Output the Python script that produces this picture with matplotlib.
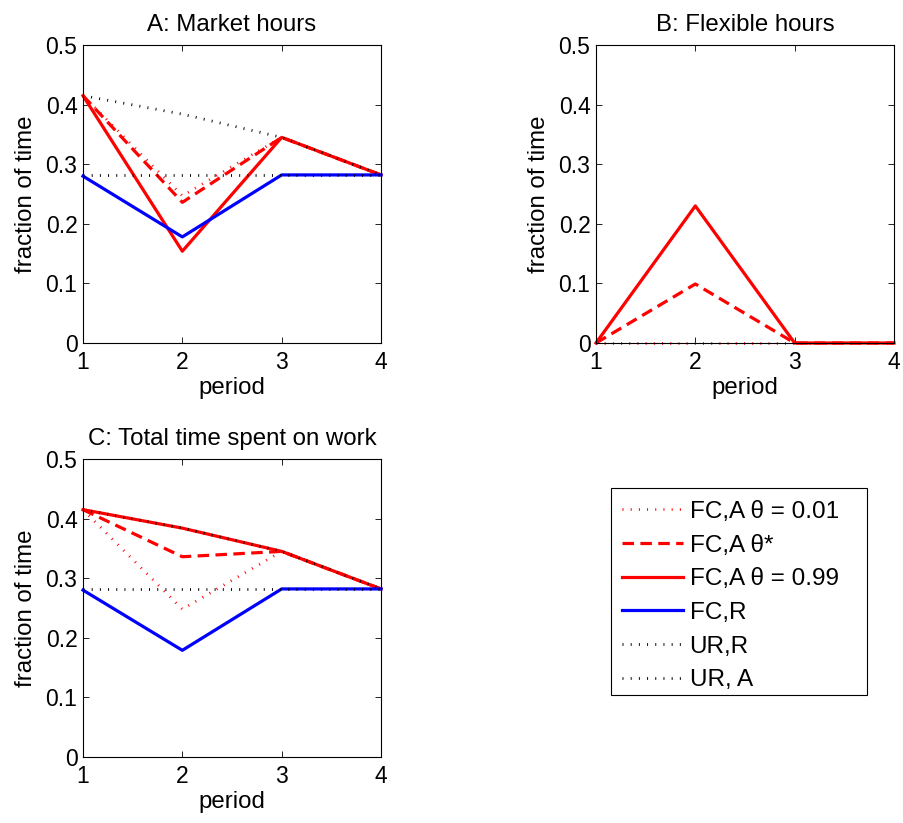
import matplotlib
matplotlib.use('Agg')
import matplotlib.pyplot as plt
from matplotlib.patches import Rectangle

plt.rcParams['font.family'] = ['Liberation Sans', 'DejaVu Sans']

periods = [1, 2, 3, 4]

# A: market hours
mkt_fca_low = [0.415, 0.247, 0.345, 0.282]
mkt_fca_star = [0.415, 0.236, 0.345, 0.282]
mkt_fca_high = [0.415, 0.154, 0.345, 0.282]
mkt_fcr = [0.280, 0.178, 0.282, 0.282]
mkt_urr = [0.282, 0.282, 0.282, 0.282]
mkt_ura = [0.415, 0.384, 0.345, 0.282]

# B: flexible hours (only the FC,A cases have any)
flex_fca_low = [0.0, 0.0, 0.0, 0.0]
flex_fca_star = [0.0, 0.099, 0.0, 0.0]
flex_fca_high = [0.0, 0.230, 0.0, 0.0]

# C: total time on work
tot_fca_low = [0.415, 0.248, 0.345, 0.282]
tot_fca_star = [0.415, 0.336, 0.345, 0.282]
tot_fca_high = [0.415, 0.384, 0.345, 0.282]
tot_fcr = [0.280, 0.179, 0.282, 0.282]
tot_urr = [0.282, 0.282, 0.282, 0.282]
tot_ura = [0.415, 0.384, 0.345, 0.282]

labels = ['FC,A θ = 0.01', 'FC,A θ*', 'FC,A θ = 0.99', 'FC,R', 'UR,R', 'UR, A']
dot = (0, (0.35, 2.6))
styles = [
    dict(color='red', lw=2.0, ls=dot),
    dict(color='red', lw=2.3, ls=(0, (3.6, 2.0))),
    dict(color='red', lw=2.3, ls='-'),
    dict(color='blue', lw=2.3, ls='-'),
    dict(color='black', lw=2.0, ls=dot),
    dict(color='black', lw=2.0, ls=dot),
]

fig = plt.figure(figsize=(9.04, 8.23), dpi=100)

W, H = 904, 823
def ax_at(x0, x1, y0, y1):
    return fig.add_axes([x0 / W, 1 - y1 / H, (x1 - x0) / W, (y1 - y0) / H])

axA = ax_at(83, 381, 45, 343)
axB = ax_at(596, 894, 45, 343)
axC = ax_at(83, 381, 459, 757)

panels = [
    (axA, 'A: Market hours',
     [mkt_fca_low, mkt_fca_star, mkt_fca_high, mkt_fcr, mkt_urr, mkt_ura]),
    (axB, 'B: Flexible hours',
     [flex_fca_low, flex_fca_star, flex_fca_high]),
    (axC, 'C: Total time spent on work',
     [tot_fca_low, tot_fca_star, tot_fca_high, tot_fcr, tot_urr, tot_ura]),
]

handles = []
for ax, title, series in panels:
    hs = []
    for vals, st, lab in zip(series, styles, labels):
        h, = ax.plot(periods, vals, label=lab, clip_on=False, **st)
        hs.append(h)
    if len(hs) > len(handles):
        handles = hs
    ax.set_xlim(1, 4)
    ax.set_ylim(0, 0.5)
    ax.set_xticks([1, 2, 3, 4])
    ax.set_yticks([0, 0.1, 0.2, 0.3, 0.4, 0.5])
    ax.set_yticklabels(['0', '0.1', '0.2', '0.3', '0.4', '0.5'])
    ax.tick_params(direction='in', top=True, right=True, length=4,
                   width=0.6, labelsize=16.5)
    ax.tick_params(axis='x', pad=6)
    ax.tick_params(axis='y', pad=4)
    for sp in ax.spines.values():
        sp.set_linewidth(0.8)
    ax.set_title(title, fontsize=17.3, pad=10)
    ax.set_xlabel('period', fontsize=17.3, labelpad=2)
    ax.set_ylabel('fraction of time', fontsize=17.3, labelpad=6)

# legend box drawn separately so it can be wider than the entries
fig.patches.append(Rectangle((611 / W, 1 - 695 / H), 256 / W, 207 / H,
                             transform=fig.transFigure, facecolor='white',
                             edgecolor='black', lw=0.8, zorder=1))
leg = fig.legend(handles, labels, loc='upper left',
                 bbox_to_anchor=(611 / W, 1 - 490 / H), fontsize=17.5,
                 frameon=False, handlelength=2.5, handletextpad=0.28,
                 labelspacing=0.48, borderpad=0.45, borderaxespad=0)
leg.set_zorder(2)

fig.savefig('out.png', dpi=100, facecolor='white')
